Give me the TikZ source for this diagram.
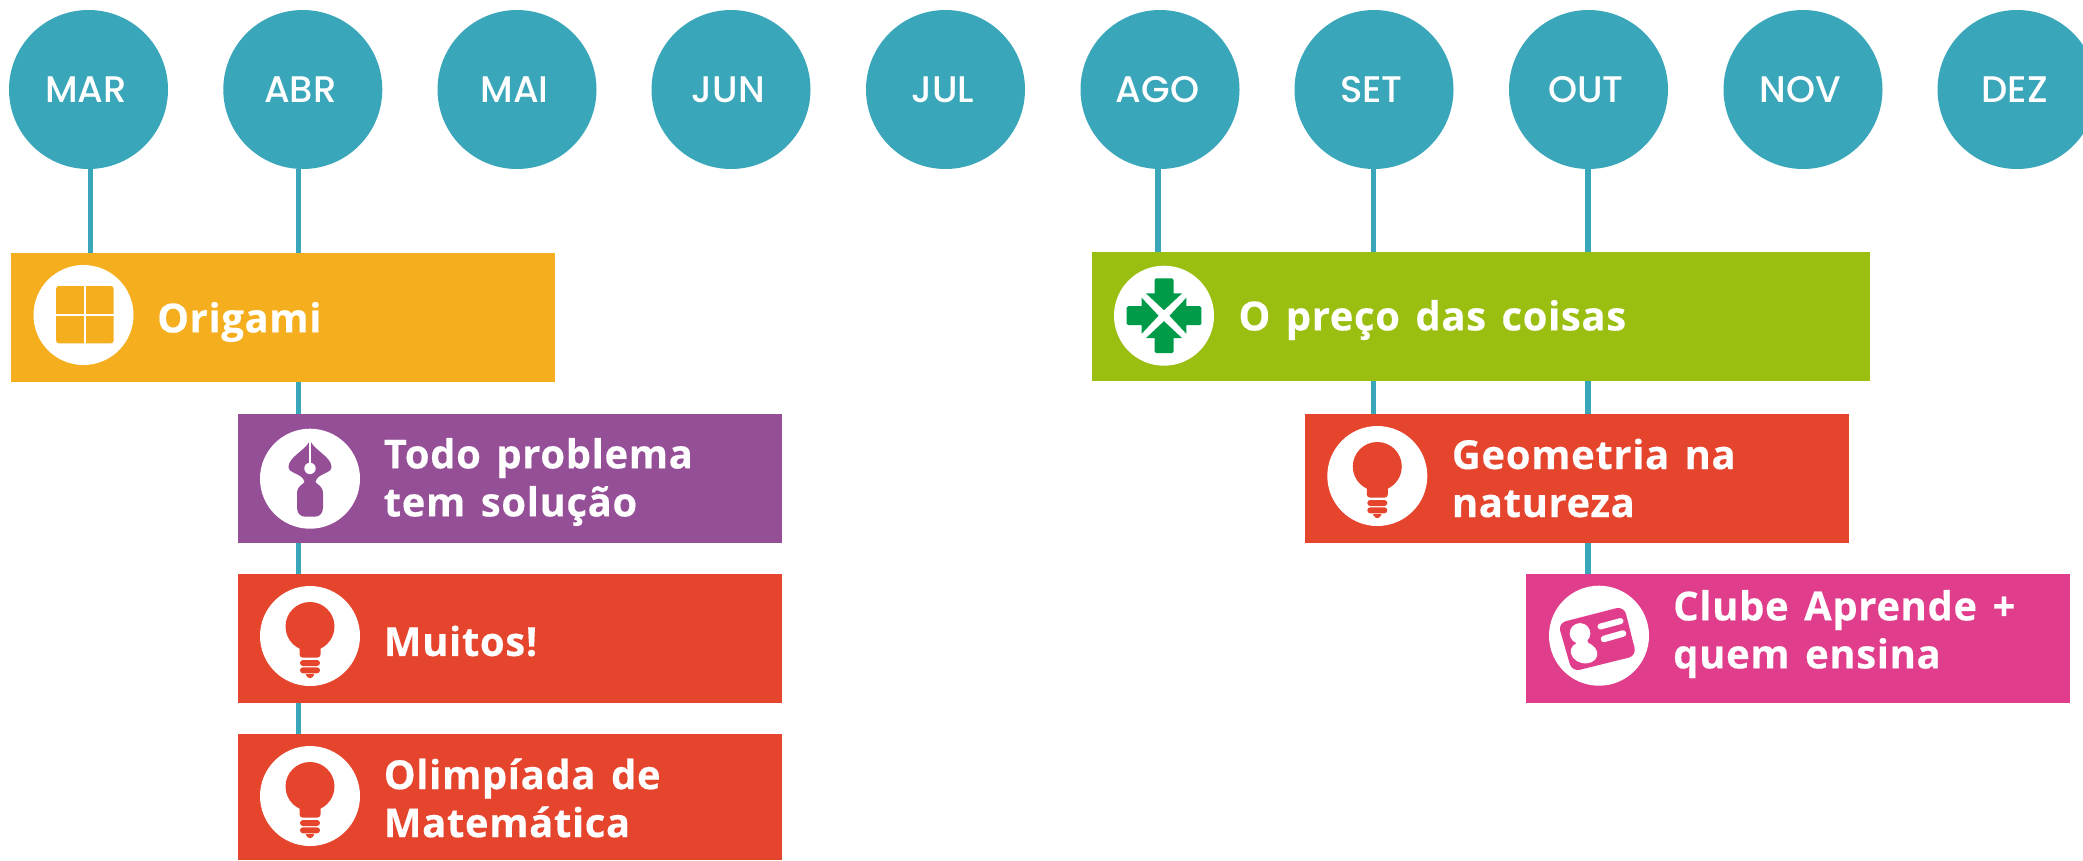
\documentclass[tikz,border=0pt]{standalone}
\usepackage{fontspec}
\newfontfamily\titlefont[LetterSpace=1.6,FakeBold=0.3,WordSpace=1.4]{Open Sans Bold}
\newfontfamily\monthfont{Poppins Medium}
\definecolor{teal}{HTML}{3AA6B9}
\definecolor{orig}{HTML}{F5AF1E}
\definecolor{purp}{HTML}{954F97}
\definecolor{redb}{HTML}{E5442D}
\definecolor{lime}{HTML}{9BBF11}
\definecolor{pinkb}{HTML}{E03E8C}
\definecolor{arrowg}{HTML}{009B48}
\newcommand{\mon}[1]{\raisebox{-1.5pt}{\kern-5pt #1}}
\tikzset{
  x=1pt,y=-1pt,
  month/.style={circle,fill=teal,text=white,inner sep=0pt,minimum size=159pt,font=\monthfont\fontsize{37}{37}\selectfont},
  conn/.style={draw=teal,line width=5.5pt},
  card/.style={anchor=north west,inner sep=0pt,minimum height=#1},
  card/.default=129pt,
  title/.style={anchor=west,inner sep=0pt,text=white,align=left,font=\titlefont\fontsize{40}{48}\selectfont},
  disc/.style={circle,fill=white,inner sep=0pt,minimum size=100pt},
  pics/bulb/.style={code={
    \fill[redb] (0,-9.5) circle[radius=24.5];
    \fill[redb,rounded corners=3pt] (-10.5,5) -- (-10.5,21.5) -- (10.5,21.5) -- (10.5,5) -- cycle;
    \fill[redb,rounded corners=3pt] (-10,24) rectangle (10,30);
    \fill[redb,rounded corners=3pt] (-10,31.3) rectangle (10,37.3);
    \fill[redb,rounded corners=1pt] (-4.8,38.2) -- (4.8,38.2) -- (1.5,42) -- (-1.5,42) -- cycle;
  }},
  pics/foldicon/.style={code={
    \fill[orig,rounded corners=2.5pt] (-27.3,-29) rectangle (30,28.3);
    \draw[white,line width=2.6pt] (1.5,-30) -- (1.5,29.3);
    \draw[white,line width=2.6pt] (-28.3,0) -- (31,0);
  }},
  pics/penicon/.style={code={
    \fill[purp] (0,-38) .. controls (-5,-28) and (-21,-22) .. (-21.5,-12)
      .. controls (-22,-5) and (-8,-6) .. (-5.5,3)
      .. controls (-6,6) and (-13,6) .. (-13,15) -- (-13,29)
      .. controls (-13,35) and (-9,38) .. (-5,38) -- (5,38)
      .. controls (9,38) and (13,35) .. (13,29) -- (13,15)
      .. controls (13,6) and (6,6) .. (5.5,3)
      .. controls (8,-6) and (22,-5) .. (21.5,-12)
      .. controls (21,-22) and (5,-28) .. (0,-38) -- cycle;
    \fill[white] (0,-10.3) circle[radius=5.7];
    \draw[white,line width=1.3pt] (0,-38) -- (0,-10.3);
  }},
  pics/arrowicon/.style={code={
    \foreach \a in {0,90,180,270}{
      \begin{scope}[rotate=\a]
        \fill[arrowg] (-18,-22.3) -- (-9.5,-22.3) [rounded corners=1.5pt] -- (-9.5,-37.3) -- (9.5,-37.3) [sharp corners] -- (9.5,-22.3) -- (18,-22.3) -- (0,-5.5) -- cycle;
      \end{scope}
    }
  }},
  pics/cardicon/.style={code={
    \fill[pinkb,rounded corners=8pt] (-41,-12.5) -- (25,-29.5) -- (37.5,20) -- (-27,36) -- cycle;
    \fill[white] (-19,-2.3) circle[radius=10.3];
    \fill[white,rotate around={-14:(-15,17)}] (-15,17) circle[x radius=13.5,y radius=10.5];
    \fill[white] (-20,3) -- (-13,3) -- (-9,10) -- (-22,10) -- cycle;
    \draw[white,line width=6pt,line cap=round] (1.5,-9.2) -- (21.5,-14.6);
    \draw[white,line width=6.5pt,line cap=round] (5,3.2) -- (24,-2.2);
  }},
}
\begin{document}
\begin{tikzpicture}
\useasboundingbox (0,0) rectangle (2083,860);
% months
\node[month] (mar) at (88.5,89.5) {\mon{MAR}};
\node[month] (abr) at (302.8,89.5) {\mon{ABR}};
\node[month] (mai) at (517,89.5) {\mon{MAI}};
\node[month] (jun) at (731,89.5) {\mon{JUN}};
\node[month] (jul) at (945.5,89.5) {\mon{JUL}};
\node[month] (ago) at (1160,89.5) {\mon{AGO}};
\node[month] (set) at (1374,89.5) {\mon{SET}};
\node[month] (out) at (1588.5,89.5) {\mon{OUT}};
\node[month] (nov) at (1803,89.5) {\mon{NOV}};
\node[month] (dez) at (2017,89.5) {\mon{DEZ}};
% cards
\node[card,fill=orig,minimum width=544pt] (origami) at (11,253) {};
\node[card,fill=purp,minimum width=544pt] (todo) at (238,414) {};
\node[card,fill=redb,minimum width=544pt] (muitos) at (238,574) {};
\node[card=126pt,fill=redb,minimum width=544pt] (olimp) at (238,734) {};
\node[card,fill=lime,minimum width=778pt] (preco) at (1092,252) {};
\node[card,fill=redb,minimum width=544pt] (geom) at (1305,414) {};
\node[card,fill=pinkb,minimum width=544pt] (clube) at (1526,574) {};
% connector columns
\coordinate (cmar) at (90.5,0);
\coordinate (cabr) at (298.5,0);
\coordinate (cago) at (1157.8,0);
\coordinate (cset) at (1373.5,0);
\coordinate (cout) at (1588,0);
\draw[conn] (mar.south -| cmar) -- (origami.north -| cmar);
\draw[conn] (abr.south -| cabr) -- (origami.north -| cabr);
\draw[conn] (origami.south -| cabr) -- (todo.north -| cabr);
\draw[conn] (todo.south -| cabr) -- (muitos.north -| cabr);
\draw[conn] (muitos.south -| cabr) -- (olimp.north -| cabr);
\draw[conn] (ago.south -| cago) -- (preco.north -| cago);
\draw[conn] (set.south -| cset) -- (preco.north -| cset);
\draw[conn] (out.south -| cout) -- (preco.north -| cout);
\draw[conn] (preco.south -| cset) -- (geom.north -| cset);
\draw[conn] (preco.south -| cout) -- (geom.north -| cout);
\draw[conn] (geom.south -| cout) -- (clube.north -| cout);
% icons
\node[disc] (d1) at (83.5,315) {};
\pic at (d1.center) {foldicon};
\node[disc] (d2) at (310,478.7) {};
\pic at (d2.center) {penicon};
\node[disc] (d3) at (310,636) {};
\pic at (d3.center) {bulb};
\node[disc] (d4) at (310,796) {};
\pic at (d4.center) {bulb};
\node[disc] (d5) at (1164,315.7) {};
\pic at (d5.center) {arrowicon};
\node[disc] (d6) at (1377.3,476) {};
\pic at (d6.center) {bulb};
\node[disc] (d7) at (1599,635.7) {};
\pic at (d7.center) {cardicon};
% titles
\node[title] (t1) at (157,322) {Origami};
\node[title] (t2) at (383.6,482) {Todo problema\\tem solução};
\node[title] (t3) at (383.6,641) {Muitos!};
\node[title] (t4) at (383.6,798) {Olimpíada de\\Matemática};
\node[title] (t5) at (1238.3,320) {O preço das coisas};
\node[title] (t6) at (1451.7,478) {Geometria na\\natureza};
\node[title] (t7) at (1673,634) {Clube Aprende +\\quem ensina};
\end{tikzpicture}
\end{document}
